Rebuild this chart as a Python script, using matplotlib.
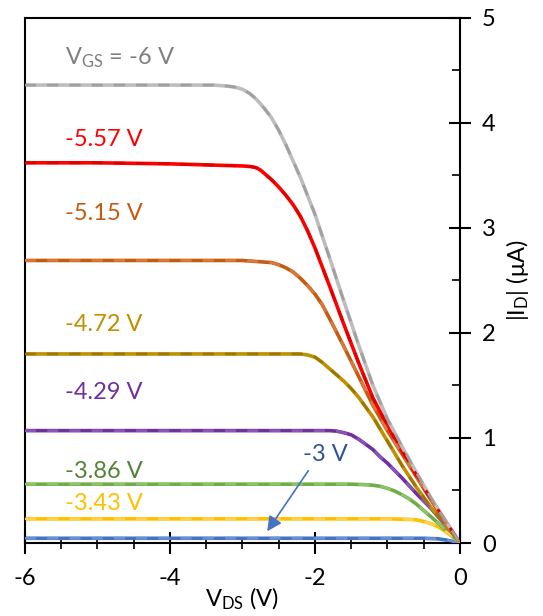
import matplotlib
matplotlib.use('Agg')
import matplotlib.pyplot as plt
from matplotlib.ticker import MultipleLocator

plt.rcParams['font.family'] = ['Lato', 'DejaVu Sans']
plt.rcParams['mathtext.default'] = 'regular'
plt.rcParams['axes.unicode_minus'] = False

# drain voltage (V) and |ID| (uA), one pair of lists per gate voltage
vds_600 = [-6, -5, -4, -3.4, -3.2, -3.1, -3.0, -2.9, -2.8, -2.7, -2.6, -2.5, -2.4,
           -2.2, -2.0, -1.8, -1.6, -1.4, -1.2, -1.0, -0.8, -0.6, -0.4, -0.2, 0]
id_600 = [4.36, 4.36, 4.36, 4.36, 4.35, 4.34, 4.32, 4.28, 4.22, 4.14, 4.05, 3.93, 3.79,
          3.48, 3.13, 2.72, 2.30, 1.89, 1.50, 1.18, 0.92, 0.67, 0.43, 0.21, 0]

vds_557 = [-6, -5, -4, -3.5, -3.0, -2.9, -2.85, -2.8, -2.75, -2.7, -2.6, -2.5, -2.4,
           -2.3, -2.2, -2.1, -2.0, -1.8, -1.6, -1.4, -1.2, -1.0, -0.8, -0.6, -0.4,
           -0.2, 0]
id_557 = [3.62, 3.62, 3.61, 3.60, 3.59, 3.585, 3.58, 3.57, 3.55, 3.52, 3.46, 3.39, 3.31,
          3.22, 3.11, 2.97, 2.81, 2.45, 2.08, 1.72, 1.38, 1.12, 0.88, 0.65, 0.42,
          0.21, 0]

vds_515 = [-6, -5, -4, -3.5, -3.0, -2.8, -2.6, -2.5, -2.4, -2.3, -2.2, -2.1, -2.0,
           -1.9, -1.8, -1.6, -1.4, -1.2, -1.0, -0.8, -0.6, -0.4, -0.2, 0]
id_515 = [2.69, 2.69, 2.69, 2.69, 2.69, 2.68, 2.67, 2.65, 2.62, 2.58, 2.52, 2.45, 2.37,
          2.27, 2.14, 1.87, 1.59, 1.31, 1.07, 0.85, 0.63, 0.41, 0.20, 0]

vds_472 = [-6, -5, -4, -3, -2.4, -2.2, -2.1, -2.0, -1.9, -1.8, -1.7, -1.6, -1.5,
           -1.4, -1.2, -1.0, -0.8, -0.6, -0.4, -0.2, 0]
id_472 = [1.80, 1.80, 1.80, 1.80, 1.80, 1.80, 1.79, 1.77, 1.72, 1.66, 1.60, 1.54, 1.47,
          1.39, 1.20, 0.97, 0.74, 0.53, 0.34, 0.17, 0]

vds_429 = [-6, -5, -4, -3, -2, -1.8, -1.7, -1.6, -1.5, -1.4, -1.3, -1.2, -1.1, -1.0,
           -0.8, -0.6, -0.4, -0.2, 0]
id_429 = [1.07, 1.07, 1.07, 1.07, 1.07, 1.07, 1.065, 1.05, 1.03, 0.99, 0.94, 0.89, 0.82,
          0.76, 0.62, 0.47, 0.33, 0.17, 0]

vds_386 = [-6, -5, -4, -3, -2, -1.5, -1.3, -1.2, -1.1, -1.0, -0.9, -0.8, -0.7, -0.6,
           -0.5, -0.4, -0.3, -0.2, -0.1, 0]
id_386 = [0.56, 0.56, 0.56, 0.56, 0.56, 0.56, 0.555, 0.55, 0.54, 0.52, 0.495, 0.46, 0.42,
          0.37, 0.31, 0.25, 0.19, 0.12, 0.06, 0]

vds_343 = [-6, -5, -4, -3, -2, -1, -0.7, -0.6, -0.5, -0.4, -0.3, -0.2, -0.1, 0]
id_343 = [0.23, 0.23, 0.23, 0.23, 0.23, 0.23, 0.225, 0.22, 0.205, 0.185, 0.155, 0.11,
          0.06, 0]

vds_300 = [-6, -5, -4, -3, -2, -1, -0.5, -0.3, -0.2, -0.1, 0]
id_300 = [0.045, 0.045, 0.045, 0.045, 0.045, 0.045, 0.045, 0.04, 0.03, 0.015, 0]

curves = [(vds_300, id_300), (vds_343, id_343), (vds_386, id_386), (vds_429, id_429),
          (vds_472, id_472), (vds_515, id_515), (vds_557, id_557), (vds_600, id_600)]
labels = ['-3 V', '-3.43 V', '-3.86 V', '-4.29 V', '-4.72 V', '-5.15 V', '-5.57 V',
          'V$_{GS}$ = -6 V']
line_colors = ['#4472C4', '#FFC000', '#70AD47', '#7030A0', '#BF9000', '#C55A11',
               '#FF0000', '#BDBDBD']
dash_colors = ['#6A8FD4', '#FFD24D', '#8CC46A', '#8A55B5', '#9C7600', '#D9793A',
               '#E00000', '#A0A0A0']
text_colors = ['#2F5597', '#FFC000', '#548235', '#7030A0', '#BF9000', '#C55A11',
               '#FF0000', '#808080']
label_y = [None, 0.38, 0.68, 1.43, 2.08, 3.14, 3.84, 4.62]

fig = plt.figure(figsize=(5.43, 6.16), dpi=100)
ax = fig.add_axes([0.046, 0.1185, 0.801, 0.8525])

for (xs, ys), lc, dc in zip(curves, line_colors, dash_colors):
    ax.plot(xs, ys, color=lc, lw=2.6, solid_capstyle='butt', solid_joinstyle='round',
            zorder=2)
    ax.plot(xs, ys, color=dc, lw=2.0, dashes=(4, 4), zorder=3)

for txt, col, yy in zip(labels, text_colors, label_y):
    if yy is None:
        continue
    ax.text(-5.45, yy, txt, color=col, fontsize=17, va='center', ha='left')

ax.text(-1.86, 0.84, labels[0], color=text_colors[0], fontsize=17,
        va='center', ha='center')
ax.annotate('', xy=(-2.68, 0.09), xytext=(-2.07, 0.71),
            arrowprops=dict(arrowstyle='-|>', color='#4472C4', lw=1.2,
                            mutation_scale=22))

ax.set_xlim(-6, 0)
ax.set_ylim(0, 5)
ax.xaxis.set_major_locator(MultipleLocator(2))
ax.xaxis.set_minor_locator(MultipleLocator(0.5))
ax.yaxis.set_major_locator(MultipleLocator(1))
ax.yaxis.set_minor_locator(MultipleLocator(0.5))

ax.yaxis.tick_right()
ax.yaxis.set_label_position('right')
ax.tick_params(axis='x', which='major', direction='inout', length=16, width=1.5,
               labelsize=17, pad=10)
ax.tick_params(axis='x', which='minor', direction='inout', length=9, width=1.2)
ax.tick_params(axis='y', which='major', direction='inout', length=16, width=1.5,
               labelsize=17, pad=8)
ax.tick_params(axis='y', which='minor', direction='in', length=6, width=1.2)

for sp in ax.spines.values():
    sp.set_linewidth(1.5)
    sp.set_color('black')

ax.set_xlabel('V$_{DS}$ (V)', fontsize=17, labelpad=-2)
ax.set_ylabel('|I$_{D}$| (\u03bcA)', fontsize=17, labelpad=6)

plt.savefig('out.png', dpi=100)
